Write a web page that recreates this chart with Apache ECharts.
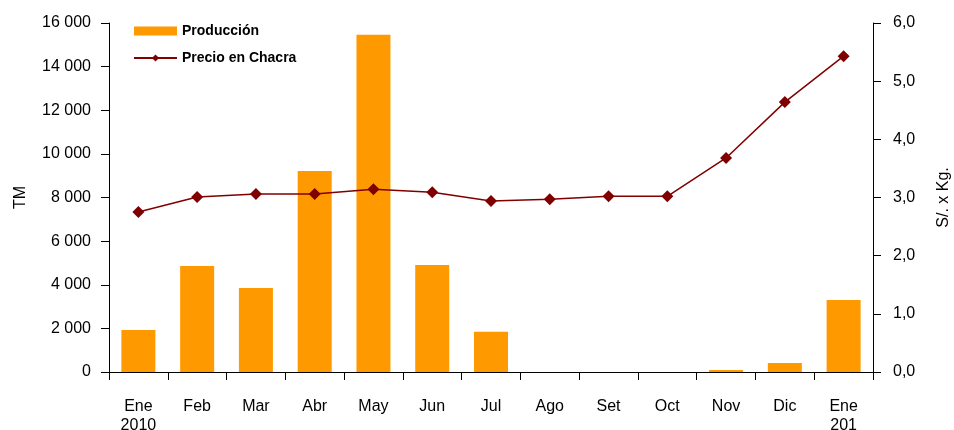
<!DOCTYPE html>
<html>
<head>
<meta charset="utf-8">
<script src="https://cdn.jsdelivr.net/npm/echarts@6/dist/echarts.min.js"></script>
<style>
  html, body { margin: 0; padding: 0; background: #fff; }
  #chart { width: 954px; height: 430px; }
</style>
</head>
<body>
<div id="chart"></div>
<script>
  // meses (el último viene cortado en el original)
  const months = ['Ene\n2010', 'Feb', 'Mar', 'Abr', 'May', 'Jun', 'Jul', 'Ago', 'Set', 'Oct', 'Nov', 'Dic', 'Ene\n201'];
  // Producción en TM
  const produccion = [1930, 4860, 3850, 9220, 15460, 4910, 1840, 0, 0, 0, 90, 410, 3300];
  // Precio en chacra S/. x Kg.
  const precio = [2.75, 3.01, 3.06, 3.06, 3.14, 3.09, 2.94, 2.97, 3.02, 3.02, 3.68, 4.64, 5.43];

  const font = 'Arial, "Liberation Sans", sans-serif';
  const axisLine = { show: true, lineStyle: { color: '#000', width: 1 } };

  let option = {
    animation: false,
    textStyle: { fontFamily: font },
    grid: { left: 109, right: 81, top: 23, bottom: 58, containLabel: false, outerBoundsMode: 'none' },
    legend: {
      orient: 'vertical',
      left: 128,
      top: 19,
      itemGap: 13,
      itemWidth: 43,
      itemHeight: 9,
      textStyle: { fontFamily: font, fontSize: 14, fontWeight: 'bold', color: '#000' },
      data: [
        { name: 'Producción', icon: 'rect' },
        { name: 'Precio en Chacra' }
      ]
    },
    xAxis: {
      type: 'category',
      data: months,
      axisLine: axisLine,
      axisTick: { show: true, length: 8, interval: 0, lineStyle: { color: '#000' } },
      axisLabel: { color: '#000', fontSize: 16, margin: 25, interval: 0, lineHeight: 19 }
    },
    yAxis: [
      {
        type: 'value',
        min: 0,
        max: 16000,
        interval: 2000,
        name: 'TM',
        nameLocation: 'middle',
        nameRotate: 90,
        nameGap: 80,
        nameTextStyle: { fontSize: 16, color: '#000' },
        axisLine: axisLine,
        axisTick: { show: true, length: 8, lineStyle: { color: '#000' } },
        splitLine: { show: false },
        axisLabel: {
          color: '#000',
          fontSize: 16,
          margin: 18,
          formatter: function (v) {
            return String(v).replace(/\B(?=(\d{3})+(?!\d))/g, ' ');
          }
        }
      },
      {
        type: 'value',
        min: 0,
        max: 6,
        interval: 1,
        name: 'S/. x Kg.',
        nameLocation: 'middle',
        nameRotate: 90,
        nameGap: 63,
        nameTextStyle: { fontSize: 16, color: '#000' },
        axisLine: axisLine,
        axisTick: { show: true, length: 8, lineStyle: { color: '#000' } },
        splitLine: { show: false },
        axisLabel: {
          color: '#000',
          fontSize: 16,
          margin: 20,
          formatter: function (v) {
            return v.toFixed(1).replace('.', ',');
          }
        }
      }
    ],
    series: [
      {
        name: 'Producción',
        type: 'bar',
        data: produccion,
        barWidth: 34,
        itemStyle: { color: '#FF9900' }
      },
      {
        name: 'Precio en Chacra',
        type: 'line',
        yAxisIndex: 1,
        data: precio,
        symbol: 'diamond',
        symbolSize: 12,
        itemStyle: { color: '#800000' },
        lineStyle: { color: '#800000', width: 1.5 },
        z: 10
      }
    ]
  };

  const chartObj = echarts.init(document.getElementById('chart'));
  chartObj.setOption(option);
</script>
</body>
</html>
